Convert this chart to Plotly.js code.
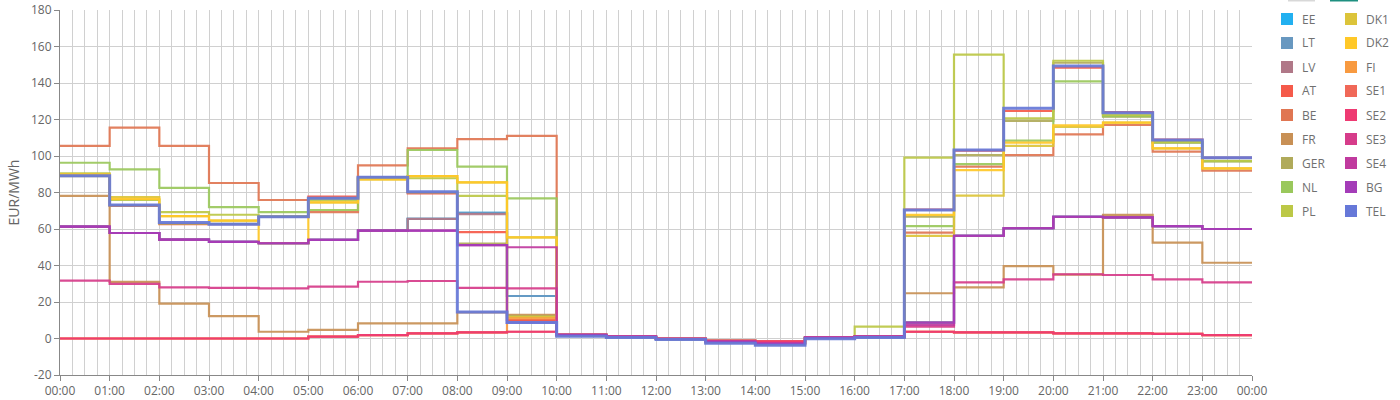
<!DOCTYPE html>
<html><head><meta charset="utf-8">
<script src="https://cdn.plot.ly/plotly-3.0.1.min.js"></script>
<style>
html,body{margin:0;padding:0;background:#fff;}
#chart{width:1400px;height:400px;}
</style>
</head><body><div id="chart"></div>
<script>
// hourly tick labels (x positions are the index of each label)
const hourLabels = ["00:00","01:00","02:00","03:00","04:00","05:00","06:00","07:00","08:00","09:00","10:00","11:00",
  "12:00","13:00","14:00","15:00","16:00","17:00","18:00","19:00","20:00","21:00","22:00","23:00","00:00"];

const areaNames = ["EE","LT","LV","AT","BE","FR","GER","NL","PL","DK1","DK2","FI","SE1","SE2","SE3","SE4","BG","TEL"];
const areaColors = ["#22b0f0","#6898c0","#b07888","#f55a4a","#e07652","#c89055","#b0aa5a","#9ac85c","#bcc846",
  "#dcc43a","#ffc828","#f89a40","#f06858","#ee3a72","#d63c8a","#c03a9e","#a43cb8","#6678d8"];

// EUR/MWh, one value per hour 00:00 .. 23:00
const EE  = [61.3,57.8,54.2,53.0,52.2,54.0,59.1,65.5,68.8,23.3,2.0,1.0,-0.2,-1.3,-2.5,0.5,1.0,8.7,56.3,60.4,66.7,66.4,61.6,60.0];
const LT  = [61.3,57.8,54.2,53.0,52.2,54.0,59.1,65.5,68.8,23.3,2.0,1.0,-0.2,-1.3,-2.5,0.5,1.0,8.7,56.3,60.4,66.7,66.4,61.6,60.0];
const LV  = [61.3,57.8,54.2,53.0,52.2,54.0,59.1,65.5,68.2,10.0,2.0,1.0,-0.2,-1.3,-2.5,0.5,1.0,8.7,56.3,60.4,66.7,66.4,61.6,60.0];
const AT  = [89.2,72.6,62.7,62.6,66.7,77.7,88.3,79.5,58.3,10.1,1.5,0.8,-0.3,-2.2,-3.2,0.2,0.8,70.6,103.0,124.7,148.4,124.0,109.0,99.0];
const BE  = [105.5,115.5,105.5,85.2,75.9,69.2,94.9,104.2,109.3,111.0,1.8,1.0,-0.2,-1.5,-2.5,0.5,1.0,58.0,94.2,100.5,111.9,117.0,102.4,92.0];
const FR  = [78.2,31.0,19.1,12.3,3.7,4.7,8.3,8.3,14.3,12.9,1.5,0.8,-0.3,-2.0,-3.0,0.3,0.8,24.8,28.0,39.7,35.0,67.7,52.5,41.5];
const GER = [89.0,73.0,63.0,62.8,66.7,77.0,88.0,80.0,52.0,12.3,1.5,0.8,-0.3,-2.2,-3.2,0.2,0.8,66.8,100.5,119.2,151.1,121.5,107.3,97.0];
const NL  = [96.3,92.7,82.5,72.0,69.2,70.4,88.0,103.3,94.2,76.8,1.5,0.8,-0.3,-2.0,-3.0,0.3,0.8,61.6,95.6,108.4,140.9,121.9,107.5,97.2];
const PL  = [90.5,76.0,69.2,67.8,67.0,75.9,87.8,87.8,78.1,55.4,1.5,0.8,-0.3,-2.0,-3.0,0.3,6.5,99.1,155.6,120.6,152.2,122.5,107.7,97.4];
const DK1 = [90.0,77.5,67.1,64.6,66.7,74.6,87.2,89.0,85.6,11.8,2.0,1.0,-0.2,-1.3,-1.5,0.5,1.0,56.2,78.3,105.5,116.0,118.3,104.2,93.2];
const DK2 = [89.8,76.5,67.1,64.6,52.3,74.6,87.2,89.0,85.6,55.4,2.0,1.0,-0.2,-1.3,-1.5,0.5,1.0,67.7,92.3,107.3,116.8,118.3,104.2,93.2];
const FI  = [0.0,0.0,0.0,0.0,0.0,1.0,1.9,2.8,3.4,11.0,2.0,1.0,-0.2,-1.3,-1.5,0.5,1.0,3.7,3.4,3.4,2.8,2.8,2.5,1.8];
const SE1 = [0.0,0.0,0.0,0.0,0.0,1.0,1.9,2.8,3.4,3.7,2.0,1.0,-0.2,-1.3,-1.5,0.5,1.0,3.7,3.4,3.4,2.8,2.8,2.5,1.8];
const SE2 = [0.0,0.0,0.0,0.0,0.0,1.0,1.9,2.8,3.4,3.7,2.0,1.0,-0.2,-1.3,-1.5,0.5,1.0,3.7,3.4,3.4,2.8,2.8,2.5,1.8];
const SE3 = [31.7,29.9,28.0,27.7,27.5,28.4,31.1,31.5,27.7,27.5,2.0,1.0,-0.2,-1.3,-2.5,0.5,1.0,6.5,30.8,32.4,35.2,34.8,32.4,30.8];
const SE4 = [61.3,57.8,54.2,53.0,52.2,54.0,59.1,59.1,51.2,50.0,2.0,1.0,-0.2,-1.5,-2.5,0.5,1.0,7.4,56.3,60.4,66.7,66.4,61.6,60.0];
const BG  = [61.3,57.8,54.2,53.0,52.2,54.0,59.1,59.1,51.2,8.7,2.0,1.0,-0.2,-2.0,-3.0,0.5,1.0,8.7,56.3,60.4,66.7,66.4,61.6,60.0];
const TEL = [89.2,73.2,63.5,62.6,66.7,76.8,88.3,80.4,14.5,8.7,1.2,0.5,-0.5,-2.6,-3.7,-0.1,0.6,70.4,103.3,126.1,149.3,123.7,108.8,99.1];

const seriesData = [EE,LT,LV,AT,BE,FR,GER,NL,PL,DK1,DK2,FI,SE1,SE2,SE3,SE4,BG,TEL];
const yTickLabels = ["-20","0","20","40","60","80","100","120","140","160","180"];

const xIdx = hourLabels.map((_, i) => i);
const traces = seriesData.map((vals, k) => ({
  type: "scatter", mode: "lines", name: areaNames[k],
  x: xIdx, y: vals.concat([vals[vals.length - 1]]),
  line: {shape: "hv", color: areaColors[k], width: areaNames[k] === "TEL" ? 3 : 2.2},
  opacity: 0.92, showlegend: false, hoverinfo: "skip"
}));

// geometry of plot area in pixels (for manual legend placement)
const W = 1400, H = 400, ML = 60, MR = 148, MT = 10, MB = 25;
const PW = W - ML - MR, PH = H - MT - MB;
const px = v => (v - ML) / PW;
const py = v => (H - MB - v) / PH;

const shapes = [];
const annotations = [];
areaNames.forEach((n, k) => {
  const col = k < 9 ? 0 : 1;
  const row = k % 9;
  const cy = 19 + row * 24;
  const sx = col === 0 ? 1281 : 1345;
  shapes.push({type: "rect", xref: "paper", yref: "paper", x0: px(sx), x1: px(sx + 12),
    y0: py(cy + 6), y1: py(cy - 6), fillcolor: areaColors[k], line: {width: 0}, layer: "above"});
  annotations.push({xref: "paper", yref: "paper", x: px(sx + 19), y: py(cy), xanchor: "left", yanchor: "middle",
    text: n, showarrow: false, font: {family: "Open Sans, sans-serif", size: 12, color: "#707070"}});
});
// cut-off buttons at top of legend area
shapes.push({type: "rect", xref: "paper", yref: "paper", x0: px(1288), x1: px(1315), y0: py(1.5), y1: py(-2),
  fillcolor: "#d8d8d8", line: {width: 0}});
shapes.push({type: "rect", xref: "paper", yref: "paper", x0: px(1330), x1: px(1358), y0: py(1.5), y1: py(-2),
  fillcolor: "#1e9080", line: {width: 0}});

const layout = {
  width: W, height: H,
  margin: {l: ML, r: MR, t: MT, b: MB, pad: 0},
  paper_bgcolor: "#fff", plot_bgcolor: "#fff",
  font: {family: "Open Sans, sans-serif", size: 12, color: "#666"},
  showlegend: false,
  xaxis: {
    range: [0, 24], tickmode: "array", tickvals: xIdx, ticktext: hourLabels,
    showgrid: true, gridcolor: "#d0d0d0", gridwidth: 1,
    minor: {dtick: 0.25, showgrid: true, gridcolor: "#d0d0d0", gridwidth: 1},
    showline: true, linecolor: "#888", linewidth: 1,
    ticks: "outside", ticklen: 5, tickcolor: "#888",
    tickfont: {size: 12, color: "#666"}, zeroline: false, fixedrange: true
  },
  yaxis: {
    range: [-20, 180], tickmode: "array", tickvals: yTickLabels.map(Number), ticktext: yTickLabels,
    showgrid: true, gridcolor: "#d0d0d0", gridwidth: 1,
    showline: true, linecolor: "#888", linewidth: 1,
    ticks: "outside", ticklen: 5, tickcolor: "#888",
    tickfont: {size: 12, color: "#666"}, zeroline: false,
    title: {text: "EUR/MWh", font: {size: 14, color: "#666"}, standoff: 8}
  },
  shapes: shapes, annotations: annotations
};

Plotly.newPlot("chart", traces, layout, {staticPlot: true, displayModeBar: false});
</script>
</body></html>
